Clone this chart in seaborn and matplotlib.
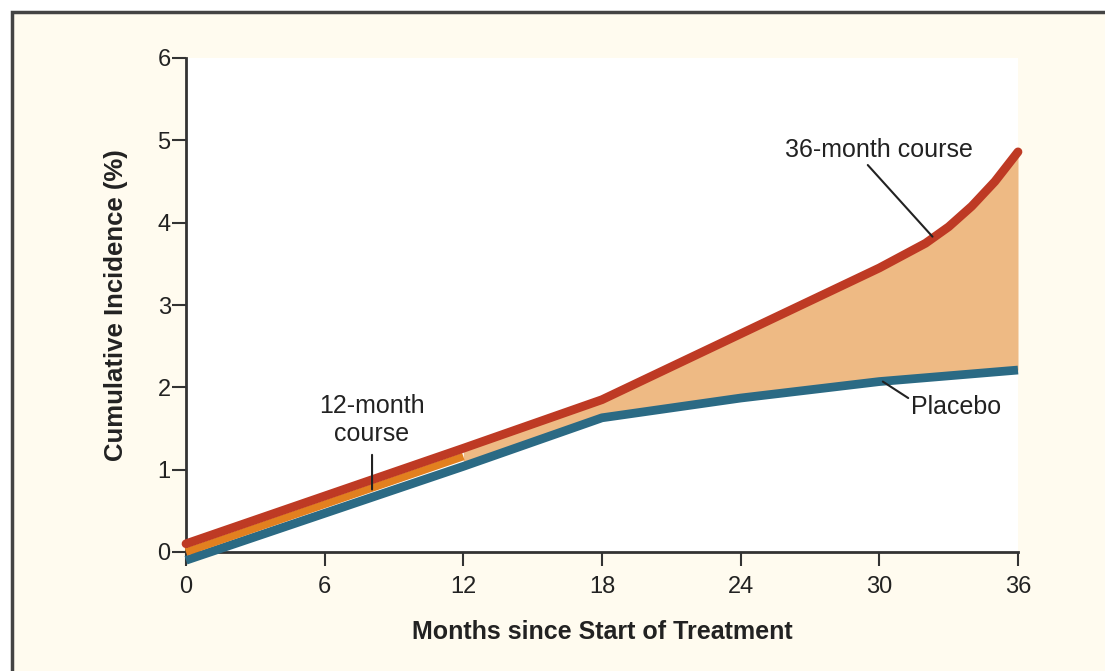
import numpy as np
import pandas as pd
import matplotlib
matplotlib.use('Agg')
import matplotlib.pyplot as plt
import seaborn as sns
from matplotlib.patches import Rectangle

# values
months_36 = [0, 6, 12, 18, 24, 30, 32, 33, 34, 35, 36]
course_36 = [0.10, 0.68, 1.26, 1.85, 2.65, 3.45, 3.75, 3.95, 4.20, 4.50, 4.86]

months_placebo = [0, 6, 12, 18, 24, 30, 36]
placebo = [-0.10, 0.47, 1.04, 1.63, 1.87, 2.07, 2.21]

months_12 = [0, 6, 12]
course_12 = [0.00, 0.58, 1.16]

x_ticks = [0, 6, 12, 18, 24, 30, 36]
y_ticks = [0, 1, 2, 3, 4, 5, 6]

red = '#be3a24'
blue = '#2b6a84'
orange = '#e2801f'
fill_col = '#eeba84'
cream = '#fffbef'
ink = '#222222'

sns.set_style('white')
plt.rcParams['font.family'] = ['Liberation Sans', 'DejaVu Sans']

fig = plt.figure(figsize=(11.05, 6.71), dpi=100)
fig.patch.set_facecolor('white')
fig.patches.append(Rectangle((12 / 1105, -0.1), 1.2, 1 - 12 / 671 + 0.1,
                             transform=fig.transFigure, facecolor=cream,
                             edgecolor='#444444', linewidth=2.5, zorder=-1))

ax = fig.add_axes([186 / 1105, 1 - 552 / 671, 832 / 1105, 494 / 671])
ax.set_facecolor('white')

df36 = pd.DataFrame({'month': months_36, 'value': course_36})
dfp = pd.DataFrame({'month': months_placebo, 'value': placebo})
df12 = pd.DataFrame({'month': months_12, 'value': course_12})

# shaded gap between the two curves, from month 12 onward
xs = np.linspace(12, 36, 200)
top = np.interp(xs, months_36, course_36)
bot = np.interp(xs, months_placebo, placebo)
ax.fill_between(xs, bot, top, color=fill_col, linewidth=0, zorder=1)

sns.lineplot(data=dfp, x='month', y='value', color=blue, linewidth=6.3,
             ax=ax, clip_on=False, zorder=3, solid_capstyle='butt')
sns.lineplot(data=df12, x='month', y='value', color=orange, linewidth=5.5,
             ax=ax, clip_on=False, zorder=4, solid_capstyle='butt')
sns.lineplot(data=df36, x='month', y='value', color=red, linewidth=6.3,
             ax=ax, clip_on=False, zorder=5, solid_capstyle='round')

ax.set_xlim(0, 36)
ax.set_ylim(0, 6)
ax.set_xticks(x_ticks)
ax.set_yticks(y_ticks)
ax.set_xticklabels([str(t) for t in x_ticks])
ax.set_yticklabels([str(t) for t in y_ticks])
sns.despine(ax=ax)
for s in ['left', 'bottom']:
    ax.spines[s].set_linewidth(2)
    ax.spines[s].set_color('#333333')
    ax.spines[s].set_zorder(2)
ax.tick_params(axis='both', direction='out', length=10, width=1.5,
               color='#333333', labelsize=17, labelcolor=ink,
               left=True, bottom=True)
ax.tick_params(axis='x', pad=7)
ax.tick_params(axis='y', pad=1)

ax.set_xlabel('Months since Start of Treatment', fontsize=18, fontweight='bold',
              color=ink, labelpad=16)
ax.set_ylabel('Cumulative Incidence (%)', fontsize=18.5, fontweight='bold',
              color=ink, labelpad=21)

# annotations
line_kw = dict(arrowstyle='-', color=ink, lw=1.5, shrinkA=0, shrinkB=0)
ax.text(30.0, 4.88, '36-month course', fontsize=18, color=ink,
        ha='center', va='center', zorder=6)
ax.annotate('', xy=(32.3, 3.83), xytext=(29.5, 4.70), arrowprops=line_kw,
            zorder=6)
ax.text(8.05, 1.6, '12-month\ncourse', fontsize=18, color=ink,
        ha='center', va='center', linespacing=1.2, zorder=6)
ax.annotate('', xy=(8.05, 0.76), xytext=(8.05, 1.18), arrowprops=line_kw,
            zorder=6)
ax.text(33.3, 1.76, 'Placebo', fontsize=18, color=ink,
        ha='center', va='center', zorder=6)
ax.annotate('', xy=(30.15, 2.07), xytext=(31.25, 1.87), arrowprops=line_kw,
            zorder=6)

fig.savefig('out.png', dpi=100, facecolor=fig.get_facecolor())
